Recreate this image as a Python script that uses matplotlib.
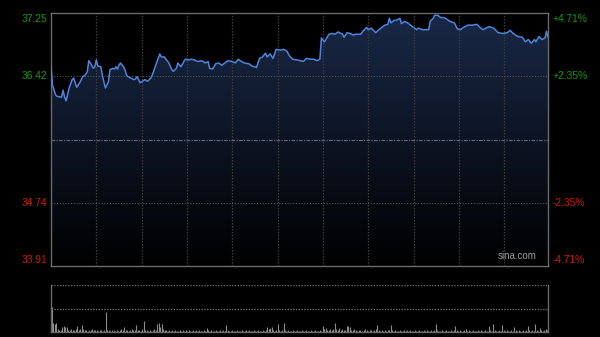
import numpy as np
import matplotlib
matplotlib.use("Agg")
import matplotlib.pyplot as plt
from matplotlib.patches import Polygon

# ---------------- data ----------------
prev_close = 35.58
price_ticks = [37.25, 36.42, 35.58, 34.74, 33.91]
left_labels = ["37.25", "36.42", "", "34.74", "33.91"]
right_labels = ["+4.71%", "+2.35%", "", "-2.35%", "-4.71%"]

minutes = [0, 1, 3, 4, 7, 8, 9, 10, 12, 14, 15, 17, 19, 21, 22, 24, 25, 27, 28, 29,
           30, 31, 33, 34, 35, 36, 38, 39, 41, 42, 43, 44, 45, 46, 48, 49, 50, 51, 53, 55,
           56, 57, 59, 60, 62, 64, 66, 67, 70, 72, 73, 75, 78, 80, 81, 83, 84, 86, 88, 89,
           91, 93, 95, 97, 100, 102, 104, 105, 107, 109, 111, 113, 115, 117, 120, 122, 124, 126, 128, 131,
           133, 135, 136, 138, 140, 142, 143, 145, 147, 149, 152, 154, 156, 158, 160, 163, 165, 167, 169, 172,
           174, 176, 178, 179, 181, 184, 186, 188, 190, 193, 194, 196, 198, 200, 202, 205, 207, 209, 210, 212,
           215, 217, 219, 221, 223, 224, 225, 227, 229, 231, 232, 234, 236, 238, 240, 242, 243, 246, 248, 250,
           251, 253, 254, 256, 258, 260, 262, 264, 267, 269, 271, 273, 276, 279, 282, 284, 286, 290, 293, 296,
           299, 302, 304, 306, 309, 312, 314, 316, 318, 320, 321, 323, 325, 327, 328, 329]
prices = [36.54, 36.30, 36.17, 36.15, 36.14, 36.23, 36.14, 36.09, 36.26, 36.37, 36.39, 36.27, 36.33, 36.41, 36.42, 36.47, 36.62, 36.56, 36.52, 36.54,
          36.63, 36.55, 36.54, 36.43, 36.34, 36.26, 36.34, 36.50, 36.52, 36.51, 36.54, 36.51, 36.56, 36.59, 36.54, 36.50, 36.43, 36.41, 36.39, 36.37,
          36.38, 36.41, 36.33, 36.34, 36.37, 36.35, 36.39, 36.43, 36.60, 36.71, 36.67, 36.67, 36.59, 36.50, 36.48, 36.52, 36.59, 36.54, 36.61, 36.64,
          36.63, 36.64, 36.63, 36.61, 36.62, 36.59, 36.61, 36.52, 36.51, 36.58, 36.59, 36.56, 36.59, 36.62, 36.61, 36.59, 36.64, 36.61, 36.59, 36.58,
          36.55, 36.54, 36.53, 36.65, 36.67, 36.72, 36.67, 36.71, 36.65, 36.77, 36.76, 36.77, 36.75, 36.68, 36.64, 36.63, 36.62, 36.61, 36.65, 36.64,
          36.64, 36.62, 36.64, 36.92, 36.87, 36.97, 36.98, 36.97, 37.00, 36.97, 36.93, 36.99, 36.98, 36.96, 36.97, 36.97, 37.02, 37.06, 37.03, 37.05,
          36.99, 37.03, 37.06, 37.09, 37.10, 37.18, 37.12, 37.15, 37.16, 37.18, 37.11, 37.14, 37.12, 37.09, 37.06, 37.03, 37.05, 37.03, 37.03, 37.03,
          37.14, 37.18, 37.22, 37.22, 37.19, 37.19, 37.17, 37.14, 37.12, 37.04, 37.03, 37.06, 37.09, 37.09, 37.10, 37.06, 37.03, 37.07, 37.05, 36.99,
          36.98, 36.99, 37.02, 36.98, 36.94, 36.93, 36.87, 36.90, 36.85, 36.90, 36.87, 36.94, 36.90, 36.92, 37.01, 36.93]

volume = [27, 10, 9, 10, 3, 2, 2, 5, 6, 5, 5, 2, 2, 3, 2, 2, 3, 6, 2, 3, 7, 3, 2, 2, 1, 2, 2, 3, 2, 2,
          2, 1, 2, 2, 1, 2, 21, 2, 2, 1, 2, 2, 1, 2, 1, 2, 3, 2, 5, 2, 2, 1, 2, 3, 2, 2, 7, 2, 2, 1,
          3, 12, 2, 2, 1, 2, 1, 2, 3, 2, 9, 10, 5, 8, 3, 2, 2, 1, 2, 1, 2, 1, 2, 1, 1, 2, 1, 2, 1, 2,
          1, 2, 1, 1, 2, 1, 2, 1, 2, 1, 1, 2, 1, 4, 2, 1, 2, 1, 1, 2, 1, 1, 2, 1, 2, 1, 7, 2, 1, 1,
          2, 1, 1, 2, 1, 1, 2, 1, 1, 2, 1, 2, 1, 1, 2, 1, 1, 2, 1, 1, 2, 1, 2, 5, 3, 4, 5, 2, 1, 2,
          9, 2, 1, 2, 10, 2, 1, 2, 1, 1, 2, 1, 1, 2, 1, 1, 2, 1, 1, 2, 1, 1, 2, 1, 1, 2, 1, 1, 2, 1,
          6, 3, 4, 2, 2, 3, 2, 3, 10, 3, 2, 4, 2, 3, 2, 2, 6, 6, 5, 2, 2, 3, 2, 1, 2, 2, 1, 2, 3, 2,
          1, 2, 2, 1, 2, 3, 7, 2, 1, 2, 1, 2, 1, 2, 2, 7, 2, 1, 2, 1, 1, 2, 1, 1, 2, 1, 2, 1, 2, 1,
          1, 2, 1, 1, 2, 1, 1, 2, 1, 2, 1, 1, 2, 1, 2, 8, 2, 1, 1, 2, 1, 1, 2, 1, 1, 2, 1, 2, 6, 2,
          1, 2, 1, 1, 2, 3, 1, 2, 1, 1, 2, 1, 1, 2, 1, 2, 1, 1, 2, 1, 6, 2, 1, 9, 2, 1, 1, 2, 1, 7,
          2, 1, 2, 1, 1, 2, 1, 5, 2, 1, 2, 1, 1, 2, 1, 2, 6, 2, 1, 2, 1, 8, 2, 1, 4, 2, 1, 2, 3, 2]
vol_max = 50
grid_minutes = [30, 60, 90, 120, 150, 180, 210, 240, 270, 300]
n_minutes = 330
# --------------------------------------

plt.rcParams['font.family'] = ['Liberation Sans', 'DejaVu Sans']
GREEN = '#109a10'
RED = '#c81e0a'
BORDER = '#6a6a6a'

fig = plt.figure(figsize=(6.0, 3.37), dpi=100, facecolor='black')
ax = fig.add_axes([51/600, 1-266/337, 497/600, 253/337], facecolor='black')
axv = fig.add_axes([51/600, 1-332/337, 497/600, 47/337], facecolor='black')

ymin, ymax = price_ticks[-1], price_ticks[0]
ax.set_xlim(0, n_minutes - 1)
ax.set_ylim(ymin, ymax)

# gradient fill under the price line
grad = np.linspace(1, 0, 256).reshape(-1, 1)
top_c = np.array([0.10, 0.16, 0.28])
bot_c = np.array([0.0, 0.0, 0.0])
img = top_c[None, None, :] * grad[:, :, None] + bot_c[None, None, :] * (1 - grad[:, :, None])
im = ax.imshow(img, extent=[0, n_minutes - 1, ymin, ymax], aspect='auto', origin='upper', zorder=1)
verts = [(minutes[0], ymin)] + list(zip(minutes, prices)) + [(minutes[-1], ymin)]
poly = Polygon(verts, closed=True, facecolor='none', edgecolor='none')
ax.add_patch(poly)
im.set_clip_path(poly)

# grid
for gm in grid_minutes:
    ax.axvline(gm, color='#3c3c3c', lw=0.9, ls=(0, (1.2, 1.2)), zorder=2)
for t in [36.42, 34.74]:
    ax.axhline(t, color='#555555', lw=0.8, ls=(0, (1, 1.5)), zorder=2)
ax.axhline(prev_close, color='#5f6670', lw=0.9, ls=(0, (3, 1, 1, 1)), zorder=2)

ax.plot(minutes, prices, color='#4f84dc', lw=1.1, zorder=3)

for s in ax.spines.values():
    s.set_color(BORDER)
    s.set_linewidth(1.0)
ax.set_xticks([])
ax.set_yticks([])

# price labels
offsets = [-6, 0, 0, 0, 6]
for t, ll, rl, off in zip(price_ticks, left_labels, right_labels, offsets):
    if not ll:
        continue
    col = GREEN if t > prev_close else RED
    ax.annotate(ll, xy=(0, t), xycoords=('axes fraction', 'data'), xytext=(-3.5, off),
                textcoords='offset pixels', ha='right', va='center', color=col, fontsize=7.4)
    ax.annotate(rl, xy=(1, t), xycoords=('axes fraction', 'data'), xytext=(4.5, off),
                textcoords='offset pixels', ha='left', va='center', color=col, fontsize=7.4)

ax.text(0.978, 0.018, 'sina.com', transform=ax.transAxes, ha='right', va='bottom',
        color='#9a9a9a', fontsize=7.0, zorder=4)

# volume panel
axv.set_xlim(-0.5, n_minutes - 0.5)
axv.set_ylim(0, vol_max)
axv.vlines(range(len(volume)), 0, volume, color='#8c8c8c', lw=0.8)
axv.axhline(vol_max, color='#6a6a6a', lw=1.0, ls=(0, (1, 1)))
axv.axhline(vol_max / 2, color='#6a6a6a', lw=1.0, ls=(0, (1, 1)))
axv.spines['top'].set_visible(False)
for k in ['left', 'right', 'bottom']:
    axv.spines[k].set_color(BORDER)
    axv.spines[k].set_linewidth(1.0)
axv.set_xticks([])
axv.set_yticks([])

fig.savefig('out.png', dpi=100, facecolor='black')
